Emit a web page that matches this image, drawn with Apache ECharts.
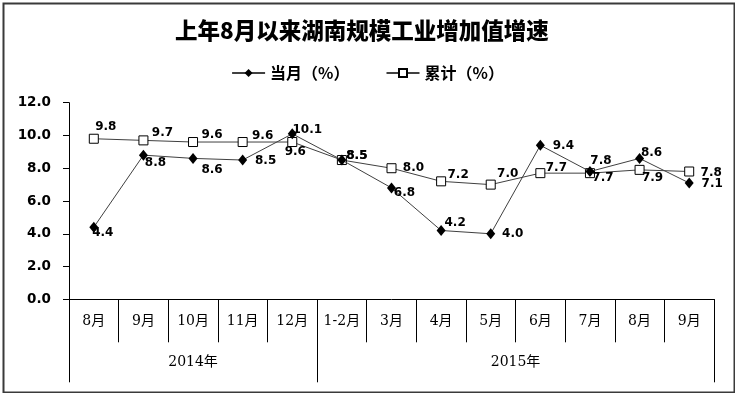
<!DOCTYPE html>
<html>
<head>
<meta charset="utf-8">
<script src="https://cdn.jsdelivr.net/npm/echarts@6/dist/echarts.min.js"></script>
<style>
html,body{margin:0;padding:0;background:#fff;}
#c{width:735px;height:393px;}
</style>
</head>
<body>
<div id="c"></div>
<script>
// ---- data ----
var months = ['8月','9月','10月','11月','12月','1-2月','3月','4月','5月','6月','7月','8月','9月'];
var years = ['2014年','2015年'];
var yearSpans = [5, 8];
var monthly = [4.4, 8.8, 8.6, 8.5, 10.1, 8.5, 6.8, 4.2, 4.0, 9.4, 7.8, 8.6, 7.1];
var cumulative = [9.8, 9.7, 9.6, 9.6, 9.6, 8.5, 8.0, 7.2, 7.0, 7.7, 7.7, 7.9, 7.8];
var yTicks = [0, 2, 4, 6, 8, 10, 12];

// ---- label placement (styles) ----
var monthlyLabelOffsets = [[9,6],[12,8],[19,11],[23,1],[15,-4],[15,-4],[13,5],[14,-8],[22,0],[23,1],[11,-11],[12,-6],[23,1]];
var cumLabelOffsets = [[12,-12],[19,-8],[19,-7],[20,-6],[3,10],[15,-4],[22,0],[17,-6],[17,-11],[16,-5],[13,5],[13,8],[22,1]];

var yearBounds = [0];
var yearCenters = [];
for (var i = 0; i < yearSpans.length; i++) {
  yearCenters.push(yearBounds[i] + yearSpans[i] / 2);
  yearBounds.push(yearBounds[i] + yearSpans[i]);
}

function withLabels(vals, offs) {
  return vals.map(function (v, i) {
    return { value: v, label: { offset: offs[i] } };
  });
}

var labelStyle = {
  show: true, position: 'inside', color: '#000',
  fontFamily: 'DejaVu Sans', fontWeight: 'bold', fontSize: 12,
  formatter: function (p) { return Number(p.value).toFixed(1); }
};

var catFont = 'DejaVu Serif, Noto Sans CJK SC';

var chart = echarts.init(document.getElementById('c'), null, { renderer: 'canvas' });
chart.setOption({
  animation: false,
  backgroundColor: '#fff',
  title: {
    text: '上年8月以来湖南规模工业增加值增速',
    left: 170, top: 14,
    textStyle: { fontFamily: 'Noto Sans CJK SC', fontWeight: 900, fontSize: 22.5, color: '#000' }
  },
  legend: {
    left: 'center', top: 60,
    itemWidth: 33, itemHeight: 10, itemGap: 36,
    textStyle: { fontFamily: 'Noto Sans CJK SC', fontWeight: 'bold', fontSize: 16, color: '#000' },
    data: ['当月（%）', '累计（%）']
  },
  graphic: [{
    type: 'rect', left: 1, top: 1, z: 100,
    shape: { width: 731, height: 389 },
    style: { fill: 'none', stroke: '#3a3a3a', lineWidth: 2 }
  }],
  grid: { left: 69, right: 21, top: 102.7, bottom: 93.7 },
  xAxis: [{
    type: 'category', data: months, position: 'bottom',
    axisLine: { show: true, lineStyle: { color: '#000', width: 1 } },
    axisTick: { show: true, interval: 0, length: 43, lineStyle: { color: '#000' } },
    axisLabel: { interval: 0, margin: 15, color: '#000', fontSize: 14, fontFamily: catFont },
    splitLine: { show: false }
  }, {
    type: 'value', position: 'bottom', min: 0, max: yearBounds[yearBounds.length - 1],
    axisLine: { show: false },
    axisTick: { show: true, customValues: yearBounds, length: 83, lineStyle: { color: '#000' } },
    axisLabel: {
      customValues: yearCenters, margin: 56, color: '#000', fontSize: 14,
      fontFamily: catFont,
      formatter: function (v) { return years[yearCenters.indexOf(v)]; }
    },
    splitLine: { show: false }
  }],
  yAxis: {
    type: 'value', min: yTicks[0], max: yTicks[yTicks.length - 1], interval: yTicks[1] - yTicks[0],
    axisLine: { show: true, lineStyle: { color: '#000', width: 1 } },
    axisTick: { show: true, length: 6, lineStyle: { color: '#000' } },
    axisLabel: {
      margin: 18, color: '#000', fontFamily: 'DejaVu Sans', fontWeight: 'bold', fontSize: 13.5,
      formatter: function (v) { return v.toFixed(1); }
    },
    splitLine: { show: false }
  },
  series: [{
    name: '累计（%）', type: 'line', xAxisIndex: 0,
    data: withLabels(cumulative, cumLabelOffsets),
    symbol: 'rect', symbolSize: 9,
    lineStyle: { color: '#404040', width: 1 },
    itemStyle: { color: '#fff', borderColor: '#000', borderWidth: 1 },
    label: labelStyle, z: 2
  }, {
    name: '当月（%）', type: 'line', xAxisIndex: 0,
    data: withLabels(monthly, monthlyLabelOffsets),
    symbol: 'diamond', symbolSize: [9, 11],
    lineStyle: { color: '#404040', width: 1 },
    itemStyle: { color: '#000', borderColor: '#000', borderWidth: 0 },
    label: labelStyle, z: 3
  }]
});
</script>
</body>
</html>
